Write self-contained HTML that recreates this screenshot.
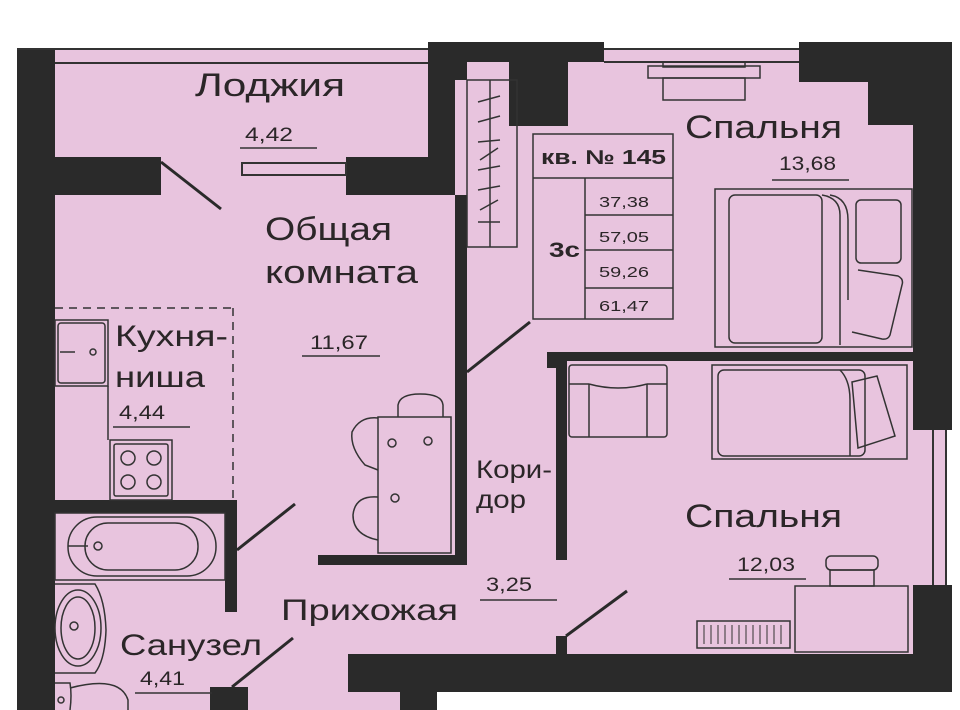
<!DOCTYPE html>
<html><head><meta charset="utf-8"><style>
html,body{margin:0;padding:0;background:#fff;}
svg{display:block;}
text{font-family:"Liberation Sans",sans-serif;fill:#2b2628;}
</style></head><body>
<svg width="960" height="710" viewBox="0 0 960 710" xmlns="http://www.w3.org/2000/svg">
<!-- pink floor -->
<g fill="#e8c4de">
<rect x="17" y="49" width="440" height="643"/>
<rect x="17" y="692" width="420" height="18"/>
<rect x="440" y="49" width="507" height="643"/>
</g>
<!-- top window lines -->
<g stroke="#333" stroke-width="2" fill="none">
<line x1="17" y1="49" x2="428" y2="49"/>
<line x1="55" y1="63" x2="428" y2="63"/>
<line x1="604" y1="49" x2="800" y2="49"/>
<line x1="604" y1="62" x2="800" y2="62"/>
<line x1="933" y1="430" x2="933" y2="586"/>
<line x1="946" y1="430" x2="946" y2="586"/>
</g>
<!-- walls -->
<g fill="#2a2a2a">
<rect x="17" y="50" width="38" height="660"/>
<rect x="55" y="157" width="106" height="38"/>
<rect x="346" y="157" width="109" height="38"/>
<rect x="428" y="42" width="27" height="153"/>
<rect x="428" y="42" width="176" height="20"/>
<rect x="455" y="42" width="12" height="38"/>
<rect x="509" y="42" width="59" height="84"/>
<rect x="455" y="195" width="12" height="370"/>
<rect x="318" y="555" width="149" height="10"/>
<rect x="799" y="42" width="153" height="40"/>
<rect x="868" y="42" width="84" height="83"/>
<rect x="913" y="42" width="39" height="388"/>
<rect x="913" y="585" width="39" height="107"/>
<rect x="348" y="654" width="604" height="38"/>
<rect x="400" y="654" width="37" height="56"/>
<rect x="210" y="687" width="38" height="23"/>
<rect x="547" y="352" width="366" height="9"/>
<rect x="547" y="352" width="10" height="16"/>
<rect x="556" y="352" width="11" height="208"/>
<rect x="556" y="636" width="11" height="20"/>
<rect x="55" y="500" width="182" height="13"/>
<rect x="225" y="500" width="12" height="112"/>
</g>
<rect x="242" y="163" width="104" height="12" fill="#e8c4de" stroke="#333" stroke-width="2"/>
<g stroke="#2a2a2a" stroke-width="3">
<line x1="161" y1="162" x2="221" y2="209"/>
<line x1="237" y1="550" x2="295" y2="504"/>
<line x1="232" y1="687" x2="293" y2="638"/>
<line x1="467" y1="372" x2="530" y2="322"/>
<line x1="566" y1="636" x2="627" y2="591"/>
</g>
<g stroke="#333" stroke-width="1.5" stroke-dasharray="8,6" fill="none">
<line x1="55" y1="308" x2="233" y2="308"/>
<line x1="233" y1="308" x2="233" y2="500"/>
</g>
<g stroke="#333" stroke-width="1.5" fill="none">
<rect x="55" y="320" width="53" height="66"/>
<rect x="58" y="323" width="47" height="60" rx="3"/>
<line x1="108" y1="386" x2="108" y2="440"/>
<rect x="110" y="440" width="62" height="60"/>
<rect x="114" y="444" width="54" height="52" rx="2"/>
<circle cx="128" cy="458" r="7"/><circle cx="154" cy="458" r="7"/>
<circle cx="128" cy="482" r="7"/><circle cx="154" cy="482" r="7"/>
<circle cx="93" cy="352" r="3"/>
<line x1="60" y1="352" x2="75" y2="352"/>
<rect x="55" y="513" width="170" height="67"/>
<rect x="68" y="517" width="148" height="59" rx="29"/>
<rect x="85" y="523" width="113" height="47" rx="23"/>
<circle cx="98" cy="546" r="4"/>
<line x1="68" y1="546" x2="88" y2="546"/>
<path d="M55 584 L95 584 Q105 600 106 630 Q105 660 95 673 L55 673"/>
<ellipse cx="78" cy="628" rx="23" ry="38"/>
<ellipse cx="78" cy="628" rx="17" ry="31"/>
<circle cx="74" cy="626" r="4"/>
<path d="M55 683 L70 683 Q72 695 70 710"/>
<path d="M70 688 Q120 675 128 700 L128 710"/>
<circle cx="61" cy="700" r="3"/>
<rect x="467" y="80" width="50" height="167"/>
<line x1="490" y1="80" x2="490" y2="247"/>
<line x1="478" y1="102" x2="500" y2="96"/><line x1="478" y1="122" x2="500" y2="116"/>
<line x1="478" y1="142" x2="500" y2="140"/><line x1="480" y1="160" x2="498" y2="148"/>
<line x1="478" y1="170" x2="500" y2="166"/><line x1="478" y1="190" x2="500" y2="186"/>
<line x1="480" y1="210" x2="498" y2="200"/><line x1="478" y1="222" x2="500" y2="222"/>
<rect x="648" y="66" width="112" height="12"/>
<rect x="663" y="62" width="82" height="5"/>
<rect x="663" y="78" width="82" height="22"/>
<rect x="715" y="189" width="197" height="158"/>
<rect x="729" y="195" width="93" height="148" rx="6"/>
<path d="M822 195 Q840 198 840 215 L840 345"/>
<path d="M830 195 Q848 198 848 220 L848 300"/>
<rect x="856" y="200" width="45" height="63" rx="5"/>
<path d="M858 270 L898 276 Q904 279 902 285 L890 335 Q888 340 882 339 L852 332"/>
<rect x="712" y="365" width="195" height="94"/>
<rect x="718" y="370" width="147" height="86" rx="6"/>
<path d="M840 370 Q850 380 850 400 L850 456"/>
<path d="M852 382 L877 376 L895 436 L858 448 Z"/>
<rect x="569" y="365" width="98" height="72" rx="3"/>
<line x1="589" y1="384" x2="589" y2="437"/>
<line x1="647" y1="384" x2="647" y2="437"/>
<path d="M589 384 Q618 392 647 384"/>
<line x1="569" y1="384" x2="589" y2="384"/><line x1="647" y1="384" x2="667" y2="384"/>
<rect x="795" y="586" width="113" height="66"/>
<rect x="826" y="556" width="52" height="14" rx="5"/>
<rect x="830" y="570" width="44" height="16"/>
<rect x="697" y="621" width="93" height="27"/>
<g stroke-width="1">
<line x1="704" y1="625" x2="704" y2="644"/><line x1="711" y1="625" x2="711" y2="644"/>
<line x1="718" y1="625" x2="718" y2="644"/><line x1="725" y1="625" x2="725" y2="644"/>
<line x1="732" y1="625" x2="732" y2="644"/><line x1="739" y1="625" x2="739" y2="644"/>
<line x1="746" y1="625" x2="746" y2="644"/><line x1="753" y1="625" x2="753" y2="644"/>
<line x1="760" y1="625" x2="760" y2="644"/><line x1="767" y1="625" x2="767" y2="644"/>
<line x1="774" y1="625" x2="774" y2="644"/><line x1="781" y1="625" x2="781" y2="644"/>
</g>
<path d="M398 417 L398 405 Q400 394 420 394 Q442 394 443 405 L443 417"/>
<path d="M378 418 Q360 416 352 432 Q350 448 365 465 L378 470"/>
<path d="M378 497 Q355 495 353 515 Q353 535 378 540"/>
<rect x="378" y="417" width="73" height="136" fill="#e8c4de"/>
<circle cx="392" cy="443" r="4"/><circle cx="428" cy="441" r="4"/><circle cx="395" cy="498" r="4"/>
<rect x="533" y="134" width="140" height="185"/>
<line x1="533" y1="178" x2="673" y2="178"/>
<line x1="585" y1="178" x2="585" y2="319"/>
<line x1="585" y1="215" x2="673" y2="215"/>
<line x1="585" y1="250" x2="673" y2="250"/>
<line x1="585" y1="288" x2="673" y2="288"/>
<line x1="240" y1="148" x2="317" y2="148"/>
<line x1="302" y1="356" x2="380" y2="356"/>
<line x1="113" y1="427" x2="190" y2="427"/>
<line x1="135" y1="693" x2="212" y2="693"/>
<line x1="480" y1="600" x2="557" y2="600"/>
<line x1="772" y1="180" x2="849" y2="180"/>
<line x1="729" y1="579" x2="806" y2="579"/>
</g>
<g font-size="32" lengthAdjust="spacingAndGlyphs">
<text x="195" y="96" textLength="150" lengthAdjust="spacingAndGlyphs">Лоджия</text>
<text x="265" y="240" textLength="127" lengthAdjust="spacingAndGlyphs">Общая</text>
<text x="265" y="283" textLength="153" lengthAdjust="spacingAndGlyphs">комната</text>
<text x="685" y="138" textLength="157" lengthAdjust="spacingAndGlyphs">Спальня</text>
<text x="685" y="527" textLength="157" lengthAdjust="spacingAndGlyphs">Спальня</text>
<text x="281" y="620" font-size="30" textLength="177" lengthAdjust="spacingAndGlyphs">Прихожая</text>
<text x="115" y="346" font-size="30" textLength="113" lengthAdjust="spacingAndGlyphs">Кухня-</text>
<text x="115" y="387" font-size="30" textLength="90" lengthAdjust="spacingAndGlyphs">ниша</text>
<text x="120" y="655" font-size="30" textLength="142" lengthAdjust="spacingAndGlyphs">Санузел</text>
<text x="476" y="478" font-size="25" textLength="76" lengthAdjust="spacingAndGlyphs">Кори-</text>
<text x="476" y="508" font-size="25" textLength="50" lengthAdjust="spacingAndGlyphs">дор</text>
</g>
<g font-size="19">
<text x="245" y="141" textLength="48" lengthAdjust="spacingAndGlyphs">4,42</text>
<text x="310" y="349" textLength="58" lengthAdjust="spacingAndGlyphs">11,67</text>
<text x="119" y="419" textLength="46" lengthAdjust="spacingAndGlyphs">4,44</text>
<text x="140" y="685" textLength="45" lengthAdjust="spacingAndGlyphs">4,41</text>
<text x="486" y="591" textLength="46" lengthAdjust="spacingAndGlyphs">3,25</text>
<text x="779" y="170" textLength="57" lengthAdjust="spacingAndGlyphs">13,68</text>
<text x="737" y="571" textLength="58" lengthAdjust="spacingAndGlyphs">12,03</text>
</g>
<text x="541" y="164" font-size="20" font-weight="bold" textLength="125" lengthAdjust="spacingAndGlyphs">кв. № 145</text>
<text x="549" y="257" font-size="21" font-weight="bold" textLength="31" lengthAdjust="spacingAndGlyphs">3с</text>
<g font-size="15">
<text x="599" y="207" textLength="50" lengthAdjust="spacingAndGlyphs">37,38</text>
<text x="599" y="242" textLength="50" lengthAdjust="spacingAndGlyphs">57,05</text>
<text x="599" y="277" textLength="50" lengthAdjust="spacingAndGlyphs">59,26</text>
<text x="599" y="311" textLength="50" lengthAdjust="spacingAndGlyphs">61,47</text>
</g>
</svg>
</body></html>
